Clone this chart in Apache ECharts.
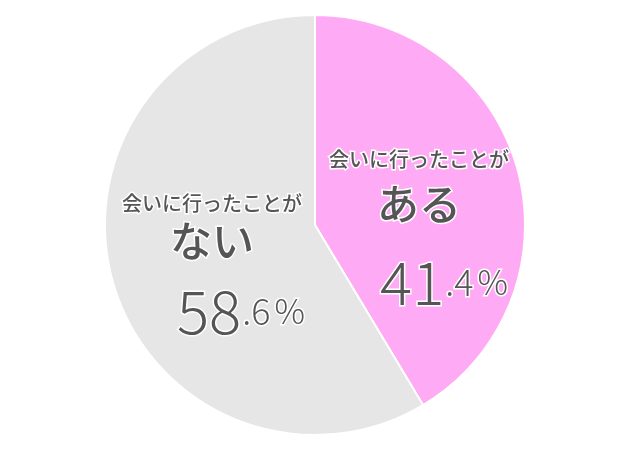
<!DOCTYPE html>
<html><head><meta charset="utf-8">
<script src="https://cdn.jsdelivr.net/npm/echarts@6/dist/echarts.min.js"></script>
<style>html,body{margin:0;padding:0;background:#fff}#c{width:640px;height:468px}</style>
</head><body><div id="c"></div>
<script>
const categories = ['ある', 'ない'];
const values = [41.4, 58.6];
const colors = ['#ffaaf5', '#e6e6e6'];
const prefix = '会いに行ったことが';

const chart = echarts.init(document.getElementById('c'));
const fam = '"Noto Sans CJK JP", "Noto Sans", sans-serif';
function base(size, weight, lh) {
  return {fontSize: size, fontWeight: weight, fontFamily: fam, color: '#555', lineHeight: lh, textBorderColor: '#fff', textBorderWidth: 3};
}
function richFor(l1, l2, l3, sp) {
  return {
    a: base(20, 500, l1),
    b: base(42, 500, l2),
    n: base(60, 300, l3),
    s: Object.assign(base(36, 300, l3), {padding: [0, 0, 0, 1]}),
    p: Object.assign(base(34, 300, l3), {padding: [0, 0, 0, 4]}),
    sp: {width: sp, lineHeight: l3}
  };
}
function fmt(i) {
  const v = values[i].toFixed(1);
  const parts = v.split('.');
  return '{a|' + prefix + '}\n{b|' + categories[i] + '}\n{sp|}{n|' + parts[0] + '}{s|.' + parts[1] + '}{p|%}';
}
const layouts = [{dx: 0, dy: 41}, {dx: 1, dy: 20}];
chart.setOption({
  animation: false,
  series: [{
    type: 'pie',
    center: [315, 225],
    radius: [0, 210],
    startAngle: 90,
    clockwise: true,
    itemStyle: {borderColor: '#fff', borderWidth: 2},
    emphasis: {disabled: true},
    labelLine: {show: false},
    labelLayout: function (p) { return layouts[p.dataIndex]; },
    data: values.map((v, i) => ({
      value: v,
      name: categories[i],
      itemStyle: {color: colors[i]},
      label: {
        show: true,
        position: 'inside',
        align: 'center',
        formatter: fmt(i),
        rich: i === 0 ? richFor(36, 54, 102, 50) : richFor(30, 44, 96, 58)
      }
    }))
  }]
});
</script></body></html>
